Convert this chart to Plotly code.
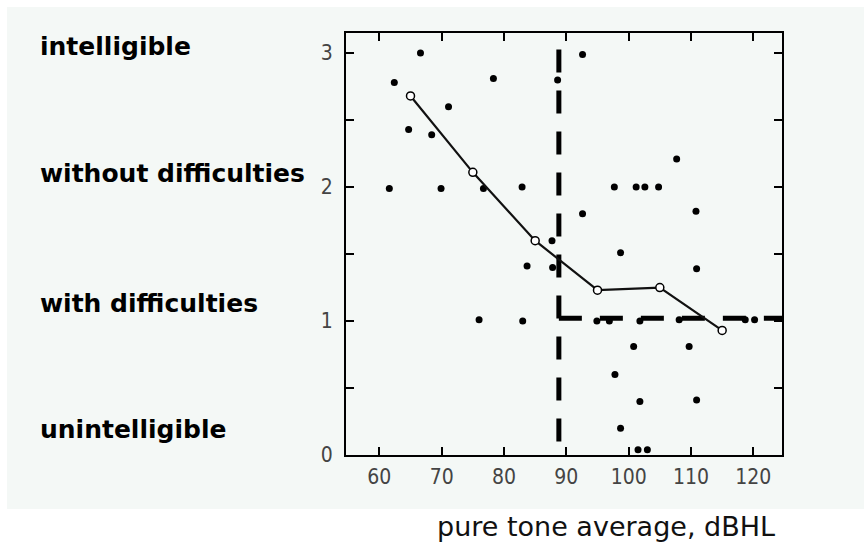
import plotly.graph_objects as go

# ---- data ----
dots_x = [66.6, 62.4, 78.3, 88.6, 92.6, 71.1, 64.7, 68.4, 61.6, 69.9, 76.7, 82.9,
          97.7, 101.2, 102.6, 104.8, 107.7, 92.6, 110.8, 87.7, 83.7, 87.8, 98.7, 110.9,
          76.0, 83.0, 94.9, 96.9, 101.8, 108.1, 118.7, 120.2, 100.8, 109.7, 97.8,
          101.8, 110.9, 98.7, 101.5, 103.0]
dots_y = [3.0, 2.78, 2.81, 2.80, 2.99, 2.60, 2.43, 2.39, 1.99, 1.99, 1.99, 2.0,
          2.0, 2.0, 2.0, 2.0, 2.21, 1.80, 1.82, 1.60, 1.41, 1.40, 1.51, 1.39,
          1.01, 1.0, 1.0, 1.0, 1.0, 1.01, 1.01, 1.01, 0.81, 0.81, 0.60,
          0.40, 0.41, 0.20, 0.04, 0.04]

mean_x = [65, 75, 85, 95, 105, 115]
mean_y = [2.68, 2.11, 1.60, 1.23, 1.25, 0.93]

thr_v_x = [88.8, 88.8]
thr_v_y = [0.1, 3.09]
thr_h_x = [88.8, 124.6]
thr_h_y = [1.02, 1.02]

x_ticks = [60, 70, 80, 90, 100, 110, 120]
x_tick_labels = ["60", "70", "80", "90", "100", "110", "120"]
y_ticks = [0, 0.5, 1, 1.5, 2, 2.5, 3]
y_tick_labels = ["0", "", "1", "", "2", "", "3"]

category_labels = ["intelligible", "without difficulties", "with difficulties", "unintelligible"]
category_label_py = [46, 174, 303, 429]  # pixel centres
x_title = "pure tone average, dBHL"

# ---- figure ----
W, H = 864, 545
L, R, T, B = 346, 82, 33, 90
pw, ph = W - L - R, H - T - B

def px_x(px):
    return (px - L) / pw

def px_y(py):
    return (H - B - py) / ph

BG = "#f4f8f6"
fig = go.Figure()

fig.add_trace(go.Scatter(x=thr_v_x, y=thr_v_y, mode="lines",
                         line=dict(color="black", width=5, dash="23px,18px"),
                         hoverinfo="skip", showlegend=False))
fig.add_trace(go.Scatter(x=thr_h_x, y=thr_h_y, mode="lines",
                         line=dict(color="black", width=5, dash="23px,18px"),
                         hoverinfo="skip", showlegend=False))
fig.add_trace(go.Scatter(x=dots_x, y=dots_y, mode="markers",
                         marker=dict(color="black", size=7), showlegend=False))
fig.add_trace(go.Scatter(x=mean_x, y=mean_y, mode="lines+markers",
                         line=dict(color="#111", width=2.2),
                         marker=dict(symbol="circle", size=8, color="white",
                                     line=dict(color="black", width=1.5)),
                         showlegend=False))

shapes = [dict(type="rect", xref="paper", yref="paper",
               x0=px_x(7), x1=px_x(864), y0=px_y(509), y1=px_y(7),
               fillcolor=BG, line=dict(width=0), layer="below")]

annotations = []
for txt, py in zip(category_labels, category_label_py):
    annotations.append(dict(text=txt, xref="paper", yref="paper",
                            x=px_x(38), y=px_y(py), xanchor="left", yanchor="middle",
                            showarrow=False,
                            font=dict(family="DejaVu Sans", size=25, color="black",
                                      weight="bold")))
annotations.append(dict(text=x_title, xref="paper", yref="paper",
                        x=px_x(606), y=px_y(526), xanchor="center", yanchor="middle",
                        showarrow=False,
                        font=dict(family="DejaVu Sans, sans-serif", size=27,
                                  color="#111")))

tickfont = dict(family="Liberation Sans Narrow, DejaVu Sans Condensed, sans-serif",
                size=21, color="#444")

fig.update_layout(
    width=W, height=H,
    margin=dict(l=L, r=R, t=T, b=B, pad=0),
    paper_bgcolor="white", plot_bgcolor=BG,
    shapes=shapes, annotations=annotations,
    xaxis=dict(range=[54.65, 124.6], tickvals=x_ticks, ticktext=x_tick_labels,
               ticks="inside", ticklen=8, tickwidth=1.5, tickcolor="black",
               showline=True, linecolor="black", linewidth=2, mirror="ticks",
               showgrid=False, zeroline=False, tickfont=tickfont,
               ticklabelstandoff=2),
    yaxis=dict(range=[0, 3.15], tickvals=y_ticks, ticktext=y_tick_labels,
               ticks="inside", ticklen=8, tickwidth=1.5, tickcolor="black",
               showline=True, linecolor="black", linewidth=2, mirror="ticks",
               showgrid=False, zeroline=False, tickfont=tickfont,
               ticklabelstandoff=7),
)

fig.write_html("out.html")
